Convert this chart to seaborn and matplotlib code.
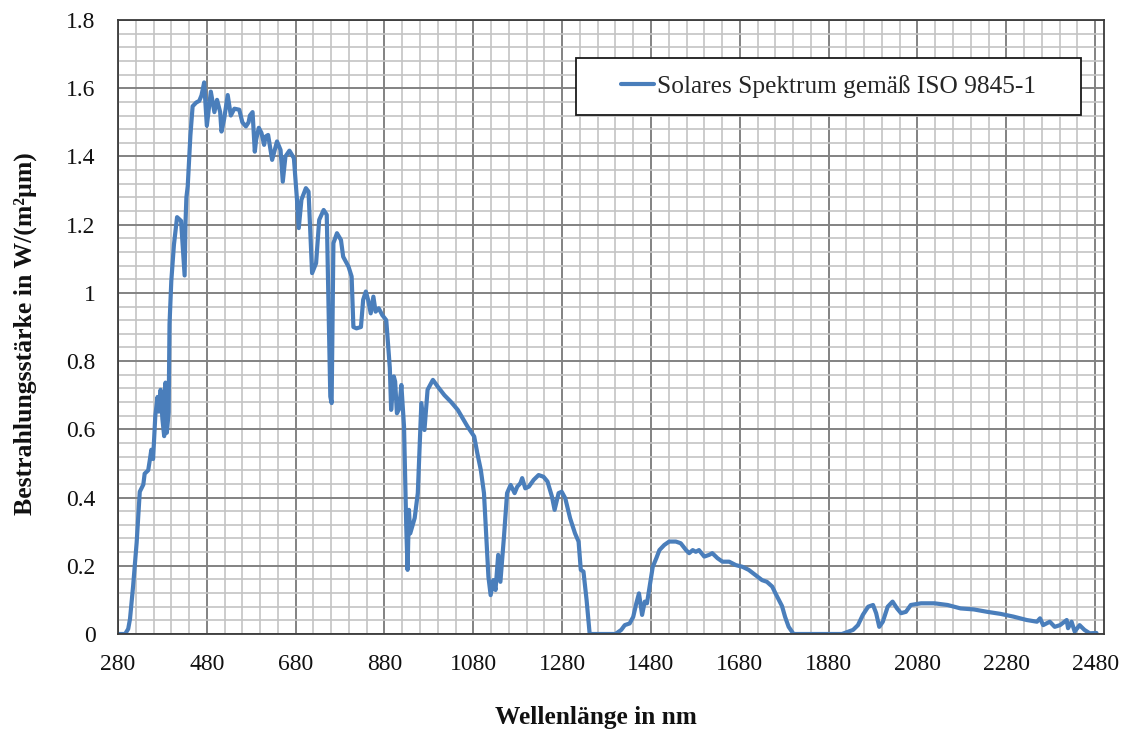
import matplotlib
matplotlib.use("Agg")
import matplotlib.pyplot as plt
from matplotlib.patches import Rectangle
from matplotlib.ticker import MultipleLocator
import pandas as pd
import seaborn as sns

# Spectral irradiance (ISO 9845-1) sampled along the curve
wavelength_nm = [
    280, 296, 303, 307, 314, 322, 329, 334, 337, 340, 348, 352, 355, 359, 364,
    369, 372, 376, 380, 384, 387, 390, 394, 396, 400, 406, 413, 422, 426, 430,
    432, 434, 437, 443, 448, 456, 463, 468, 474, 480, 489, 497, 503, 510, 513,
    519, 527, 534, 542, 553, 560, 568, 574, 577, 583, 588, 591, 597, 603, 609,
    612, 618, 627, 638, 646, 651, 657, 666, 676, 683, 687, 693, 703, 709, 717,
    726, 733, 743, 750, 758, 761, 765, 773, 782, 787, 799, 806, 810, 817, 827,
    832, 838, 843, 849, 855, 860, 867, 875, 884, 888, 892, 895, 901, 904, 908,
    913, 918, 924, 929, 932, 935, 938, 948, 955, 963, 970, 977, 989, 1000, 1015,
    1030, 1045, 1067, 1082, 1089, 1097, 1104, 1108, 1114, 1119, 1125, 1130, 1136,
    1141, 1149, 1156, 1164, 1173, 1179, 1186, 1190, 1197, 1205, 1216, 1227, 1238,
    1247, 1257, 1263, 1272, 1279, 1287, 1298, 1309, 1317, 1322, 1328, 1335, 1342,
    1400, 1413, 1421, 1432, 1440, 1447, 1453, 1460, 1466, 1471, 1477, 1484, 1492,
    1499, 1510, 1521, 1536, 1547, 1559, 1566, 1574, 1581, 1588, 1600, 1611, 1618,
    1630, 1641, 1656, 1671, 1686, 1700, 1715, 1730, 1741, 1753, 1760, 1768, 1775,
    1782, 1790, 1801, 1910, 1935, 1946, 1957, 1969, 1980, 1987, 1994, 2002, 2013,
    2024, 2034, 2043, 2054, 2065, 2088, 2118, 2148, 2177, 2207, 2237, 2267, 2296,
    2326, 2349, 2356, 2363, 2378, 2389, 2401, 2416, 2419, 2427, 2434, 2445, 2456,
    2468, 2483,
]
irradiance = [
    0.0, 0.0, 0.015, 0.044, 0.14, 0.268, 0.417, 0.43, 0.438, 0.47, 0.48, 0.513, 0.54, 0.513, 0.64,
    0.695, 0.652, 0.716, 0.63, 0.58, 0.737, 0.59, 0.65, 0.908, 1.035, 1.142, 1.222, 1.211, 1.132, 1.051,
    1.206, 1.28, 1.313, 1.462, 1.547, 1.558, 1.563, 1.579, 1.617, 1.49, 1.59, 1.53, 1.566, 1.53, 1.473,
    1.51, 1.58, 1.52, 1.54, 1.537, 1.5, 1.488, 1.5, 1.52, 1.53, 1.414, 1.449, 1.484, 1.469, 1.434,
    1.458, 1.463, 1.39, 1.444, 1.419, 1.326, 1.4, 1.417, 1.395, 1.273, 1.19, 1.273, 1.307, 1.297, 1.058,
    1.087, 1.214, 1.243, 1.229, 0.696, 0.677, 1.146, 1.175, 1.155, 1.106, 1.077, 1.048, 0.9, 0.896, 0.9,
    0.98, 1.004, 0.98, 0.94, 0.989, 0.945, 0.955, 0.935, 0.92, 0.85, 0.78, 0.657, 0.755, 0.74, 0.647,
    0.66, 0.73, 0.608, 0.315, 0.188, 0.364, 0.295, 0.34, 0.413, 0.677, 0.598, 0.716, 0.745, 0.725, 0.7,
    0.68, 0.657, 0.608, 0.579, 0.53, 0.48, 0.413, 0.315, 0.168, 0.114, 0.158, 0.129, 0.232,
    0.153, 0.285, 0.413, 0.437, 0.413, 0.432, 0.442, 0.457, 0.427, 0.432, 0.452, 0.466, 0.461,
    0.447, 0.403, 0.364, 0.413, 0.417, 0.398, 0.339, 0.295, 0.271, 0.188, 0.183, 0.1, 0.0,
    0.0, 0.012, 0.026, 0.031, 0.05, 0.09, 0.119, 0.056, 0.095, 0.09, 0.139, 0.197, 0.222,
    0.246, 0.261, 0.271, 0.271, 0.266, 0.246, 0.237, 0.246, 0.241, 0.246, 0.227, 0.232, 0.237,
    0.222, 0.212, 0.212, 0.202, 0.197, 0.188, 0.173, 0.158, 0.153, 0.139, 0.12, 0.1, 0.082,
    0.05, 0.021, 0.0, 0.0, 0.012, 0.026, 0.056, 0.08, 0.085, 0.061, 0.021, 0.036, 0.08,
    0.095, 0.075, 0.061, 0.065, 0.085, 0.09, 0.09, 0.085, 0.075, 0.072, 0.065, 0.059, 0.051,
    0.041, 0.036, 0.046, 0.026, 0.036, 0.021, 0.026, 0.041, 0.017, 0.036, 0.007, 0.026, 0.012,
    0.002, 0.003,
]

x_ticks = [280, 480, 680, 880, 1080, 1280, 1480, 1680, 1880, 2080, 2280, 2480]
y_ticks = [0.0, 0.2, 0.4, 0.6, 0.8, 1.0, 1.2, 1.4, 1.6, 1.8]
y_tick_labels = ["0", "0.2", "0.4", "0.6", "0.8", "1", "1.2", "1.4", "1.6", "1.8"]
series_name = "Solares Spektrum gemäß ISO 9845-1"
x_title = "Wellenlänge in nm"
y_title = "Bestrahlungsstärke in W/(m²µm)"

sns.set_style("white")
plt.rcParams["font.family"] = ["Liberation Serif", "DejaVu Serif"]

fig = plt.figure(figsize=(11.26, 7.35), dpi=100)
ax = fig.add_axes([118 / 1126, 1 - 634 / 735, 986 / 1126, 614 / 735])

df = pd.DataFrame({"nm": wavelength_nm, "E": irradiance, "Serie": series_name})
sns.lineplot(data=df, x="nm", y="E", hue="Serie", palette=["#4a7ebb"],
             estimator=None, linewidth=3.0, ax=ax)

ax.set_xlim(280, 2500)
ax.set_ylim(0, 1.8)
ax.set_xticks(x_ticks)
ax.set_yticks(y_ticks)
ax.set_yticklabels(y_tick_labels)
ax.xaxis.set_minor_locator(MultipleLocator(40))
ax.yaxis.set_minor_locator(MultipleLocator(0.04))

ax.set_axisbelow(True)
ax.grid(which="minor", color="#c4c4c4", linewidth=1.2)
ax.grid(which="major", color="#828282", linewidth=1.4)

ax.tick_params(which="major", direction="in", length=5, width=1.3,
               color="#3a3a3a", labelsize=17, labelcolor="#111111")
ax.tick_params(axis="x", which="major", pad=14.5)
ax.tick_params(axis="y", which="major", pad=16)
ax.tick_params(which="minor", length=0)

for sp in ax.spines.values():
    sp.set_visible(True)
    sp.set_color("#3a3a3a")
    sp.set_linewidth(1.3)

ax.set_xlabel(x_title, fontsize=18.3, fontweight="bold", color="#111111")
ax.set_ylabel(y_title, fontsize=18.5, fontweight="bold", color="#111111")
ax.xaxis.set_label_coords(0.485, -0.117)
ax.yaxis.set_label_coords(-0.082, 0.489)

# legend box in the upper right
box = Rectangle((0.4645, 0.845), 0.512, 0.093, transform=ax.transAxes,
                facecolor="white", edgecolor="#1a1a1a", linewidth=1.3, zorder=4)
ax.add_patch(box)
handles, labels = ax.get_legend_handles_labels()
leg = ax.legend(handles, labels, loc="center", bbox_to_anchor=(0.4645 + 0.256, 0.845 + 0.0465),
                frameon=False, fontsize=18.3, handlelength=1.3, handletextpad=0.1)
leg.set_zorder(5)

fig.savefig("out.png", dpi=100)
